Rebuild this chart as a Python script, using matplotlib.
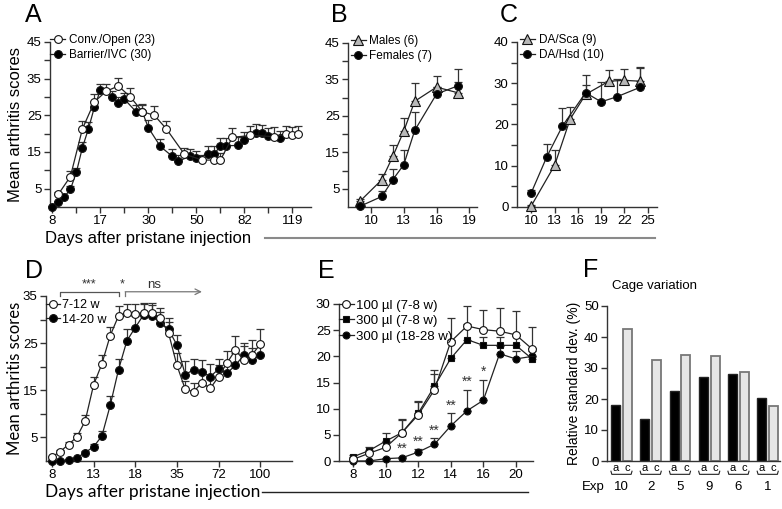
import matplotlib
matplotlib.use('Agg')
import matplotlib.pyplot as plt
from matplotlib.lines import Line2D
from matplotlib.ticker import FixedLocator
import numpy as np

W, H = 782, 509

# ---- panel A: housing (sample index on a broken day axis)
a_tick_labels = ['8', '17', '30', '50', '82', '119']
a_open_x = [1, 3, 5, 7, 9, 11, 13, 15, 17, 19, 22, 25, 27, 28, 30, 33, 37, 39, 40, 41]
a_open_y = [3.5, 8.3, 21.3, 28.7, 31.6, 33.0, 30.0, 26.0, 25.0, 21.3, 14.4, 12.8, 12.8, 12.8,
            19.0, 19.5, 19.2, 20.0, 19.6, 19.8]
a_open_err = [0.6, 1.5, 2.2, 2.0, 2.0, 2.2, 2.4, 2.2, 2.6, 2.2, 1.8, 1.5, 1.8, 1.8,
              2.6, 2.6, 2.6, 2.2, 2.2, 2.2]
a_ivc_x = [0, 1, 2, 3, 4, 5, 6, 7, 8, 10, 11, 12, 14, 15, 16, 18, 20, 21, 23, 24,
           26, 27, 28, 29, 31, 32, 34, 35, 36, 38]
a_ivc_y = [0.1, 1.3, 2.8, 4.8, 9.5, 16.2, 21.3, 27.2, 31.9, 30.1, 28.3, 29.4, 25.9, 25.9,
           21.6, 16.5, 13.8, 12.5, 13.9, 13.4, 14.5, 14.5, 16.7, 16.7, 16.8, 18.3, 20.1, 20.1,
           19.4, 18.7]
a_ivc_err = [0.2, 0.4, 0.5, 0.8, 1.0, 1.5, 1.8, 1.8, 1.7, 1.6, 1.8, 1.8, 2.0, 2.0, 2.0,
             2.0, 2.0, 1.8, 1.8, 1.8, 2.0, 2.0, 2.2, 2.2, 2.2, 2.2, 2.4, 2.2, 2.2, 2.0]

# ---- panel B: sex
b_days = [9, 11, 12, 13, 14, 16, 18]
b_males = [1.6, 7.5, 13.9, 20.8, 29.0, 32.9, 31.3]
b_males_err = [0.5, 1.6, 3.2, 3.6, 5.0, 3.1, 3.0]
b_females = [0.2, 2.9, 7.5, 11.6, 21.0, 31.0, 33.3]
b_females_err = [0.3, 1.4, 2.9, 4.1, 5.0, 2.0, 4.6]

# ---- panel C: vendor
c_sca_days = [10, 13, 15, 17, 20, 22, 24]
c_sca = [0.3, 10.1, 21.3, 27.3, 30.5, 30.7, 30.5]
c_sca_err = [0.3, 3.7, 3.0, 2.2, 2.6, 2.8, 3.4]
c_hsd_days = [10, 12, 14, 17, 19, 21, 24]
c_hsd = [3.5, 12.2, 19.6, 27.7, 25.5, 26.7, 29.0]
c_hsd_err = [0.5, 3.0, 4.3, 4.2, 4.8, 4.4, 4.7]

# ---- panel D: age
d_tick_labels = ['8', '13', '18', '35', '72', '100']
d_young = [0.85, 2.0, 3.5, 5.1, 8.5, 16.1, 20.6, 26.6, 30.8, 31.3, 31.2, 31.5, 31.5, 30.3,
           27.1, 20.3, 15.2, 14.7, 16.6, 15.4, 17.9, 20.8, 23.5, 21.5, 22.5, 24.8]
d_young_err = [0.3, 0.4, 0.6, 0.8, 1.2, 1.8, 1.8, 1.8, 2.0, 2.0, 2.2, 2.0, 2.0, 2.2, 2.4, 2.6,
               1.8, 1.8, 2.5, 2.0, 2.4, 2.6, 3.0, 2.8, 3.2, 3.2]
d_old = [0.0, 0.0, 0.3, 0.7, 1.8, 3.0, 5.3, 11.8, 19.4, 25.5, 28.3, 31.0, 30.8, 29.3, 27.9,
         24.6, 18.3, 19.4, 18.9, 17.9, 19.5, 18.6, 20.3, 22.4, 21.5, 22.4]
d_old_err = [0.0, 0.0, 0.1, 0.2, 0.4, 0.6, 1.0, 2.0, 2.2, 2.4, 2.4, 2.2, 2.2, 2.4, 2.4, 2.2,
             3.0, 2.2, 2.6, 2.6, 2.2, 2.4, 2.6, 2.6, 2.5, 2.5]
d_brackets = [(1, 8, '***'), (8.8, 18, 'ns')]

# ---- panel E: pristane dose
e_tick_labels = ['8', '10', '12', '14', '16', '20']
e_100 = [0.3, 1.5, 2.6, 5.4, 8.8, 13.6, 22.8, 25.8, 25.1, 24.8, 24.1, 21.4]
e_100_err = [0.3, 0.6, 1.0, 2.7, 2.5, 3.0, 4.5, 3.9, 3.8, 4.4, 4.5, 4.3]
e_300 = [0.8, 2.0, 3.8, 5.4, 9.1, 14.3, 19.6, 23.2, 22.1, 22.1, 22.1, 19.5]
e_300_err = [0.4, 0.6, 1.6, 2.5, 2.3, 3.1, 3.5, 2.9, 1.6, 1.6, 1.7, 2.0]
e_old = [0.0, 0.0, 0.45, 0.6, 1.7, 3.2, 6.7, 9.6, 11.6, 20.5, 19.5, 20.0]
e_old_err = [0.0, 0.0, 0.2, 0.2, 0.5, 1.1, 2.4, 4.0, 3.9, 1.5, 1.5, 1.0]
e_sig = ['', '', '', '**', '**', '**', '**', '**', '*', '', '', '']

# ---- panel F: cage variation
f_exps = ['10', '2', '5', '9', '6', '1']
f_animal = [18.0, 13.7, 22.5, 27.1, 28.2, 20.3]
f_cage = [42.7, 32.7, 34.1, 33.8, 28.7, 17.7]

plt.rcParams['font.family'] = ['Liberation Sans', 'DejaVu Sans']
INK = '#333333'


def add_ax(fig, left, top, right, bottom):
    return fig.add_axes([left / W, 1 - bottom / H, (right - left) / W, (bottom - top) / H])


def style(ax, size=9.5):
    for s in ['top', 'right']:
        ax.spines[s].set_visible(False)
    for s in ['left', 'bottom']:
        ax.spines[s].set_linewidth(1.0)
        ax.spines[s].set_color(INK)
    ax.tick_params(which='both', direction='out', length=4, width=1, color=INK,
                   labelsize=size, pad=2)


def series(ax, x, y, err, marker, face, ms, label):
    lo = np.zeros(len(err))
    ax.errorbar(x, y, yerr=[lo, err], fmt='none', ecolor=INK, elinewidth=0.9,
                capsize=3, capthick=0.9, zorder=2, clip_on=False)
    ax.plot(x, y, color='#222222', lw=0.9, marker=marker, mfc=face, mec='#111111',
            mew=0.8, ms=ms, label=label, zorder=3, clip_on=False)


def legend(ax, x, y, size=8.5):
    ax.legend(loc='upper left', bbox_to_anchor=(x, y), frameon=False, fontsize=size,
              handlelength=1.3, handletextpad=0.3, labelspacing=0.25,
              borderpad=0, borderaxespad=0)


fig = plt.figure(figsize=(W / 100, H / 100), dpi=100)

# A
ax = add_ax(fig, 50, 42, 311, 207)
style(ax)
series(ax, a_ivc_x, a_ivc_y, a_ivc_err, 'o', 'black', 5.6, 'Barrier/IVC (30)')
series(ax, a_open_x, a_open_y, a_open_err, 'o', 'white', 5.6, 'Conv./Open (23)')
ax.set_xlim(-0.4, 43.1)
ax.set_ylim(0, 45)
ax.set_xticks(np.arange(len(a_tick_labels)) * 8)
ax.set_xticklabels(a_tick_labels)
ax.xaxis.set_minor_locator(FixedLocator(np.arange(len(a_tick_labels)) * 8 + 4))
ax.set_yticks([5, 15, 25, 35, 45])
ax.yaxis.set_minor_locator(FixedLocator([10, 20, 30, 40]))
h, l = ax.get_legend_handles_labels()
ax.legend(h[::-1], l[::-1], loc='upper left', bbox_to_anchor=(0.0, 1.05), frameon=False,
          fontsize=8.5, handlelength=1.3, handletextpad=0.3, labelspacing=0.25,
          borderpad=0, borderaxespad=0)
ax.set_ylabel('Mean arthritis scores', fontsize=12)
ax.yaxis.set_label_coords(-0.105, 0.5)

# B
ax = add_ax(fig, 348, 43, 477, 207)
style(ax)
series(ax, b_days, b_males, b_males_err, '^', '#b8b8b8', 6.5, 'Males (6)')
series(ax, b_days, b_females, b_females_err, 'o', 'black', 5.6, 'Females (7)')
ax.set_xlim(7.9, 19.7)
ax.set_ylim(0, 45)
ax.set_xticks([10, 13, 16, 19])
ax.set_yticks([5, 15, 25, 35, 45])
ax.yaxis.set_minor_locator(FixedLocator([10, 20, 30, 40]))
legend(ax, 0.02, 1.05)

# C
ax = add_ax(fig, 517, 42, 657, 207)
style(ax)
series(ax, c_sca_days, c_sca, c_sca_err, '^', '#b8b8b8', 6.5, 'DA/Sca (9)')
series(ax, c_hsd_days, c_hsd, c_hsd_err, 'o', 'black', 5.6, 'DA/Hsd (10)')
ax.set_xlim(8.15, 26.2)
ax.set_ylim(0, 40)
ax.set_xticks([10, 13, 16, 19, 22, 25])
ax.set_yticks([0, 10, 20, 30, 40])
ax.yaxis.set_minor_locator(FixedLocator([5, 15, 25, 35]))
legend(ax, 0.02, 1.05)

fig.text(45 / W, 1 - 238 / H, 'Days after pristane injection', fontsize=12, va='center')
fig.add_artist(Line2D([265 / W, 655 / W], [1 - 238 / H] * 2, color='#8a8a8a', lw=1.5))

# D
ax = add_ax(fig, 46, 296, 292, 461)
style(ax)
idx = np.arange(len(d_young))
series(ax, idx, d_old, d_old_err, 'o', 'black', 5.6, '14-20 w')
series(ax, idx, d_young, d_young_err, 'o', 'white', 5.6, '7-12 w')
ax.set_xlim(-0.7, 28.8)
ax.set_ylim(0, 35)
ax.set_xticks(np.arange(len(d_tick_labels)) * 5)
ax.set_xticklabels(d_tick_labels)
ax.set_yticks([5, 15, 25, 35])
ax.yaxis.set_minor_locator(FixedLocator([10, 20, 30]))
h, l = ax.get_legend_handles_labels()
ax.legend(h[::-1], l[::-1], loc='upper left', bbox_to_anchor=(0.0, 0.98), frameon=False,
          fontsize=9, handlelength=1.1, handletextpad=0.2, labelspacing=0.2,
          borderpad=0, borderaxespad=0)
ax.set_ylabel('Mean arthritis scores', fontsize=12, family=['Lato', 'DejaVu Sans'])
ax.yaxis.set_label_coords(-0.095, 0.5)
x0, x1, txt = d_brackets[0]
ax.plot([x0, x0, x1, x1], [35.0, 35.9, 35.9, 35.0], color='#555555', lw=0.9, clip_on=False)
ax.text((x0 + x1) / 2, 36.1, txt, ha='center', va='bottom', fontsize=9, color='#333333')
ax.text((d_brackets[0][1] + d_brackets[1][0]) / 2, 36.1, '*', ha='center', va='bottom',
        fontsize=9, color='#333333')
x0, x1, txt = d_brackets[1]
ax.plot([x0, x0], [35.0, 35.9], color='#777777', lw=0.9, clip_on=False)
ax.annotate('', xy=(x1, 35.9), xytext=(x0, 35.9), annotation_clip=False,
            arrowprops=dict(arrowstyle='->', color='#777777', lw=0.9, shrinkA=0, shrinkB=0))
ax.text(x0 + 3.5, 36.1, txt, ha='center', va='bottom', fontsize=9.5, color='#333333')

fig.text(45 / W, 1 - 492 / H, 'Days after pristane injection', fontsize=12.5, va='center',
         family=['Lato', 'DejaVu Sans'])
fig.add_artist(Line2D([262 / W, 528 / W], [1 - 492 / H] * 2, color='#222222', lw=1.0))

# E
ax = add_ax(fig, 339, 304, 533, 461)
style(ax)
idx = np.arange(len(e_100))
series(ax, idx, e_old, e_old_err, 'o', 'black', 5, '300 µl (18-28 w)')
series(ax, idx, e_300, e_300_err, 's', 'black', 5, '300 µl (7-8 w)')
series(ax, idx, e_100, e_100_err, 'o', 'white', 5.6, '100 µl (7-8 w)')
ax.set_xlim(-0.86, 11.05)
ax.set_ylim(0, 30)
ax.set_xticks(np.arange(len(e_tick_labels)) * 2)
ax.set_xticklabels(e_tick_labels)
ax.set_yticks([0, 5, 10, 15, 20, 25, 30])
h, l = ax.get_legend_handles_labels()
ax.legend(h[::-1], l[::-1], loc='upper left', bbox_to_anchor=(0.0, 1.03), frameon=False,
          fontsize=9.5, handlelength=1.1, handletextpad=0.2, labelspacing=0.25,
          borderpad=0, borderaxespad=0)
for i, s in enumerate(e_sig):
    if s:
        ax.text(i, e_old[i] + e_old_err[i] + 0.2, s, ha='center', va='bottom',
                fontsize=10, color='#333333')

# F
ax = add_ax(fig, 607, 306, 780, 461)
style(ax)
pos = np.arange(len(f_exps))
ax.bar(pos - 0.2, f_animal, width=0.31, color='black', edgecolor='#222222', lw=1.0)
ax.bar(pos + 0.2, f_cage, width=0.31, color='#e6e6e6', edgecolor='#777777', lw=1.3)
ax.set_xlim(-0.495, 5.42)
ax.set_ylim(0, 50)
ax.set_yticks([0, 10, 20, 30, 40, 50])
ax.set_xticks([])
ax.set_ylabel('Relative standard dev. (%)', fontsize=10)
ax.yaxis.set_label_coords(-0.15, 0.5)
ax.text(0.03, 1.13, 'Cage variation', transform=ax.transAxes, fontsize=9.5, va='center')
tr = ax.get_xaxis_transform()
for p, e in zip(pos, f_exps):
    ax.text(p - 0.2, -0.047, 'a', transform=tr, ha='center', va='center', fontsize=8)
    ax.text(p + 0.2, -0.047, 'c', transform=tr, ha='center', va='center', fontsize=8)
    ax.plot([p - 0.36, p - 0.33, p + 0.33, p + 0.36], [-0.066, -0.086, -0.086, -0.066],
            transform=tr, color='#222222', lw=0.8, clip_on=False)
    ax.text(p, -0.168, e, transform=tr, ha='center', va='center', fontsize=9.5)
ax.text(-0.96, -0.168, 'Exp', transform=tr, ha='center', va='center', fontsize=9.5)

# panel letters
for letter, x, y in [('A', 25, 22), ('B', 331, 22), ('C', 500, 22),
                     ('D', 25, 278), ('E', 318, 278), ('F', 583, 277)]:
    fig.text(x / W, 1 - y / H, letter, fontsize=18, va='baseline')

fig.savefig('out.png', dpi=100)
